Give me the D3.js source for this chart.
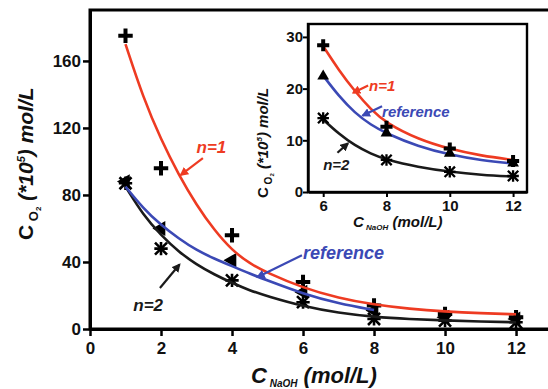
<!DOCTYPE html>
<html>
<head>
<meta charset="utf-8">
<script src="https://cdn.jsdelivr.net/npm/d3@7"></script>
<style>
body{margin:0;background:#fff;}
svg{display:block;font-family:"Liberation Sans",Arial,sans-serif;}
</style>
</head>
<body>
<div id="chart"></div>
<script>
// main plot: measured points
var xs = [1,2,4,6,8,10,12]
var n1Pts = [175,96,56,28,14,9,7]
var refPts = [88,60,41,22,11,7,6]
var n2Pts = [87,48,29,16,6,5,4]

// main plot: fitted curves
var n1CurveX = [1,1.5,2,2.5,3,3.5,4,4.5,5,6,7,8,9,10,11,12]
var n1CurveY = [170,138,113,92,74,59,47,39,33.5,24.5,18.5,14.5,12,10.4,9.4,8.8]
var refCurveX = [1,1.5,2,2.5,3,3.5,4,4.5,5,6,7,8]
var refCurveY = [85,72,62,54,47,42,37.5,33,29,21,15.2,11.3]
var n2CurveX = [1,1.5,2,2.5,3,3.5,4,4.5,5,6,7,8,9,10,11,12]
var n2CurveY = [85,68,56,46,38.5,32.5,27.5,23,19.5,13.5,9.6,7.2,5.9,5.1,4.5,4]

// inset
var insXs = [6,8,10,12]
var insN1 = [28.4,12.6,8.4,6.0]
var insRef = [22.4,11.4,7.5,5.6]
var insN2 = [14.3,6.2,3.9,3.1]
var insCurveX = [6,6.5,7,7.5,8,9,10,11,12]
var insN1Curve = [28.2,23.5,19.5,16,13.3,10.2,8.3,7,6.2]
var insRefCurve = [22.5,18.5,15.3,13,11.3,8.8,7.2,6.1,5.5]
var insN2Curve = [14,11.2,9,7.4,6.2,4.8,3.9,3.3,3.0]

var xTicks = [0,2,4,6,8,10,12]
var yTicks = [0,40,80,120,160]
var insXTicks = [6,8,10,12]
var insYTicks = [0,10,20,30]

var red = "#ee3b22", blue = "#3b49b5", black = "#1a1a1a"

var W = 548, H = 389
var svg = d3.select("#chart").append("svg").attr("width",W).attr("height",H)

var defs = svg.append("defs")
function arrowMarker(id,color){
	defs.append("marker").attr("id",id)
		.attr("viewBox","0 0 10 10").attr("refX",8).attr("refY",5)
		.attr("markerWidth",4).attr("markerHeight",4).attr("orient","auto")
		.append("path").attr("d","M0,0L10,5L0,10z").attr("fill",color)
}
arrowMarker("ar",red)
arrowMarker("ab",blue)
arrowMarker("ak",black)

// ---------- main plot ----------
var x = d3.scaleLinear().domain([0,12.9]).range([90,548])
var y = d3.scaleLinear().domain([0,190.4]).range([329,10])

svg.append("rect").attr("x",90).attr("y",10).attr("width",480).attr("height",319)
	.attr("fill","none").attr("stroke","#000").attr("stroke-width",3)

var xAxis = svg.append("g").attr("transform","translate(0,329)")
	.call(d3.axisBottom(x).tickValues(xTicks).tickSize(7).tickSizeOuter(0))
var yAxis = svg.append("g").attr("transform","translate(90,0)")
	.call(d3.axisLeft(y).tickValues(yTicks).tickSize(7).tickSizeOuter(0))
;[xAxis,yAxis].forEach(function(g){
	g.select(".domain").attr("stroke-width",3)
	g.selectAll(".tick line").attr("stroke-width",2.5)
	g.selectAll("text").attr("font-size",17).attr("font-weight","bold")
		.attr("font-family","Liberation Sans, Arial, sans-serif").attr("fill","#111")
})
xAxis.selectAll("text").attr("dy","0.9em")
yAxis.selectAll("text").attr("x",-9)

function drawCurve(g,xsc,ysc,cx,cy,color){
	var line = d3.line().x(function(d){return xsc(d[0])}).y(function(d){return ysc(d[1])})
		.curve(d3.curveBasis)
	g.append("path").datum(d3.zip(cx,cy)).attr("d",line)
		.attr("fill","none").attr("stroke",color).attr("stroke-width",2.6)
}

function drawPlus(g,xsc,ysc,px,py,s){
	g.selectAll(null).data(d3.zip(px,py)).enter().append("path")
		.attr("transform",function(d){return "translate("+xsc(d[0])+","+ysc(d[1])+")"})
		.attr("d",d3.symbol(d3.symbolPlus,s)()).attr("fill","none")
		.attr("stroke","#000").attr("stroke-width",4)
}
function drawStar(g,xsc,ysc,px,py,s,sw){
	var pts = g.selectAll(null).data(d3.zip(px,py)).enter().append("g")
		.attr("transform",function(d){return "translate("+xsc(d[0])+","+ysc(d[1])+")"})
	pts.append("path").attr("d",d3.symbol(d3.symbolPlus,s)())
		.attr("fill","none").attr("stroke","#000").attr("stroke-width",sw)
	pts.append("path").attr("d",d3.symbol(d3.symbolTimes,s*1.6)())
		.attr("fill","none").attr("stroke","#000").attr("stroke-width",sw)
}
function drawTri(g,xsc,ysc,px,py,s,rot){
	g.selectAll(null).data(d3.zip(px,py)).enter().append("path")
		.attr("transform",function(d){return "translate("+xsc(d[0])+","+ysc(d[1])+") rotate("+rot+")"})
		.attr("d",d3.symbol(d3.symbolTriangle,s)()).attr("fill","#000")
}

var main = svg.append("g")
drawStar(main,x,y,xs,n2Pts,60,2.6)
drawTri(main,x,y,xs,refPts,95,-90)
drawPlus(main,x,y,xs,n1Pts,70)
drawCurve(main,x,y,n2CurveX,n2CurveY,black)
drawCurve(main,x,y,refCurveX,refCurveY,blue)
drawCurve(main,x,y,n1CurveX,n1CurveY,red)

function note(g,xsc,ysc,label,tx,ty,size,color,a,mk){
	g.append("text").attr("x",xsc(tx)).attr("y",ysc(ty)).text(label)
		.attr("font-size",size).attr("font-weight","bold").attr("font-style","italic")
		.attr("fill",color)
	g.append("line").attr("x1",xsc(a[0])).attr("y1",ysc(a[1]))
		.attr("x2",xsc(a[2])).attr("y2",ysc(a[3]))
		.attr("stroke",color).attr("stroke-width",2.2).attr("marker-end","url(#"+mk+")")
}
note(main,x,y,"n=1",3.0,105,17,red,[3.18,102,2.56,92],"ar")
note(main,x,y,"reference",6.0,41.5,18,blue,[5.97,44,4.72,31],"ab")
note(main,x,y,"n=2",1.22,11,17,black,[1.97,24.5,2.52,38.5],"ak")

// axis titles
var yt = svg.append("text").attr("transform","translate(33,240) rotate(-90)")
	.attr("font-size",21).attr("font-weight","bold").attr("fill","#111")
yt.append("tspan").text("C")
yt.append("tspan").text(" O").attr("font-size",13).attr("dy",5)
yt.append("tspan").text("2").attr("font-size",8).attr("dy",3)
yt.append("tspan").text(" (*10").attr("font-style","italic").attr("dy",-8)
yt.append("tspan").text("5").attr("font-size",11).attr("font-style","italic").attr("dy",-8)
yt.append("tspan").text(") mol/L").attr("font-style","italic").attr("dy",8)

var xt = svg.append("text").attr("x",251).attr("y",383)
	.attr("font-size",22).attr("font-weight","bold").attr("font-style","italic").attr("fill","#111")
xt.append("tspan").text("C")
xt.append("tspan").text(" NaOH").attr("font-size",10).attr("dy",4)
xt.append("tspan").text(" (mol/L)").attr("dy",-4)

// ---------- inset ----------
var ix = d3.scaleLinear().domain([5.52,12.44]).range([308,527])
var iy = d3.scaleLinear().domain([0,32.5]).range([192,24])

svg.append("rect").attr("x",308).attr("y",24).attr("width",219).attr("height",168)
	.attr("fill","#fff").attr("stroke","#000").attr("stroke-width",2.4)

var ixAxis = svg.append("g").attr("transform","translate(0,192)")
	.call(d3.axisBottom(ix).tickValues(insXTicks).tickFormat(d3.format("d")).tickSize(5).tickSizeOuter(0))
var iyAxis = svg.append("g").attr("transform","translate(308,0)")
	.call(d3.axisLeft(iy).tickValues(insYTicks).tickSize(5).tickSizeOuter(0))
;[ixAxis,iyAxis].forEach(function(g){
	g.select(".domain").attr("stroke-width",2.4)
	g.selectAll(".tick line").attr("stroke-width",2)
	g.selectAll("text").attr("font-size",15).attr("font-weight","bold")
		.attr("font-family","Liberation Sans, Arial, sans-serif").attr("fill","#111")
})
ixAxis.selectAll("text").attr("dy","0.7em")
iyAxis.selectAll("text").attr("x",-5)

var ins = svg.append("g")
drawCurve(ins,ix,iy,insCurveX,insN2Curve,black)
drawCurve(ins,ix,iy,insCurveX,insRefCurve,blue)
drawCurve(ins,ix,iy,insCurveX,insN1Curve,red)
drawStar(ins,ix,iy,insXs,insN2,45,2.3)
drawTri(ins,ix,iy,insXs,insRef,60,0)
drawPlus(ins,ix,iy,insXs,insN1,50)

note(ins,ix,iy,"n=1",7.45,19.5,15,red,[7.42,20.6,6.95,19.2],"ar")
note(ins,ix,iy,"reference",7.86,14.6,15,blue,[7.86,16.6,7.25,14.8],"ab")
note(ins,ix,iy,"n=2",6.0,4.2,15,black,[6.45,7.6,6.78,9.4],"ak")

var iyt = svg.append("text").attr("transform","translate(268,198) rotate(-90)")
	.attr("font-size",15).attr("font-weight","bold").attr("fill","#111")
iyt.append("tspan").text("C")
iyt.append("tspan").text(" O").attr("font-size",10).attr("dy",4)
iyt.append("tspan").text("2").attr("font-size",6).attr("dy",2)
iyt.append("tspan").text(" (*10").attr("font-style","italic").attr("dy",-6)
iyt.append("tspan").text("5").attr("font-size",8).attr("font-style","italic").attr("dy",-6)
iyt.append("tspan").text(") mol/L").attr("font-style","italic").attr("dy",6)

var ixt = svg.append("text").attr("x",353).attr("y",227)
	.attr("font-size",15).attr("font-weight","bold").attr("font-style","italic").attr("fill","#111")
ixt.append("tspan").text("C")
ixt.append("tspan").text(" NaOH").attr("font-size",8).attr("dy",3)
ixt.append("tspan").text(" (mol/L)").attr("dy",-3)
</script>
</body>
</html>
